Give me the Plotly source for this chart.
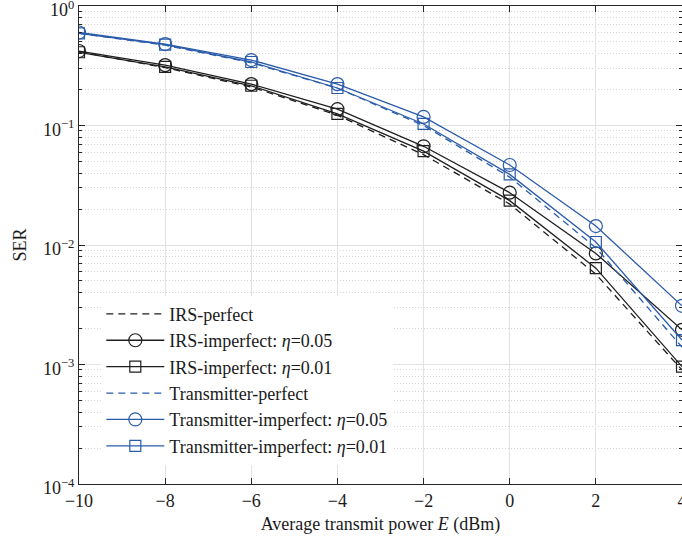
import plotly.graph_objects as go

power_dbm = [-10, -8, -6, -4, -2, 0, 2, 4]

irs_perfect = [0.415, 0.305, 0.21, 0.122, 0.057, 0.022, 0.0057, 0.0009]
irs_eta005 = [0.42, 0.32, 0.222, 0.137, 0.067, 0.0274, 0.0085, 0.00195]
irs_eta001 = [0.41, 0.31, 0.215, 0.125, 0.061, 0.0235, 0.0064, 0.00096]
tx_perfect = [0.59, 0.47, 0.335, 0.205, 0.1, 0.037, 0.0095, 0.0014]
tx_eta005 = [0.6, 0.48, 0.353, 0.222, 0.118, 0.0467, 0.0144, 0.0031]
tx_eta001 = [0.59, 0.475, 0.34, 0.206, 0.103, 0.039, 0.0106, 0.0016]

ytick_vals = [1e-4, 1e-3, 1e-2, 1e-1, 1]
ytick_text = ["10<sup>−4</sup>", "10<sup>−3</sup>", "10<sup>−2</sup>",
              "10<sup>−1</sup>", "10<sup>0</sup>"]

BLACK = "#1f1f1f"
BLUE = "#2b5cab"
FONT = "Liberation Serif"

series = [
    ("IRS-perfect", irs_perfect, BLACK, "dash", None),
    ("IRS-imperfect: <i>η</i>=0.05", irs_eta005, BLACK, "solid", "circle-open"),
    ("IRS-imperfect: <i>η</i>=0.01", irs_eta001, BLACK, "solid", "square-open"),
    ("Transmitter-perfect", tx_perfect, BLUE, "dash", None),
    ("Transmitter-imperfect: <i>η</i>=0.05", tx_eta005, BLUE, "solid", "circle-open"),
    ("Transmitter-imperfect: <i>η</i>=0.01", tx_eta001, BLUE, "solid", "square-open"),
]

fig = go.Figure()
for name, vals, color, dash, symbol in series:
    fig.add_trace(go.Scatter(
        x=power_dbm, y=vals, name=name,
        mode="lines+markers" if symbol else "lines",
        line=dict(color=color, width=1.3, dash="7px,5px" if dash == "dash" else "solid"),
        marker=dict(symbol=symbol or "circle", size=13 if symbol == "circle-open" else 11,
                    color=color, line=dict(width=1.2, color=color)),
    ))

axis_common = dict(
    showline=True, linecolor="#262626", linewidth=1.2, mirror="allticks",
    ticks="inside", ticklen=6, tickcolor="#262626",
    showgrid=True, gridcolor="#e2e2e2", gridwidth=1, zeroline=False,
    automargin=False, ticklabeloverflow="allow",
    tickfont=dict(family=FONT, size=18, color="#1a1a1a"),
)

fig.update_layout(
    width=682, height=540,
    margin=dict(l=79, r=0, t=6, b=56),
    paper_bgcolor="white", plot_bgcolor="white",
    font=dict(family=FONT, size=18, color="#1a1a1a"),
    xaxis=dict(range=[-10, 4], dtick=2, tick0=-10,
               title=dict(text="Average transmit power <i>E</i> (dBm)",
                          font=dict(family=FONT, size=18), standoff=7),
               **axis_common),
    yaxis=dict(type="log", range=[-4, 0], tickvals=ytick_vals, ticktext=ytick_text,
               ticklabelshift=4,
               title=dict(text="SER", font=dict(family=FONT, size=18), standoff=11),
               minor=dict(dtick="D1", ticks="inside", ticklen=3, tickcolor="#262626",
                          showgrid=True, gridcolor="#d4d4d4", griddash="1px,2px", gridwidth=1),
               **axis_common),
    legend=dict(x=0.037, y=0.394, xanchor="left", yanchor="top",
                bgcolor="white", borderwidth=0, itemwidth=58,
                font=dict(family=FONT, size=18, color="#1a1a1a"),
                tracegroupgap=0),
)

# drop the default body margin so the figure sits at the page origin
fig.write_html("out.html", config={"displayModeBar": False},
               post_script="document.body.style.margin='0';")
